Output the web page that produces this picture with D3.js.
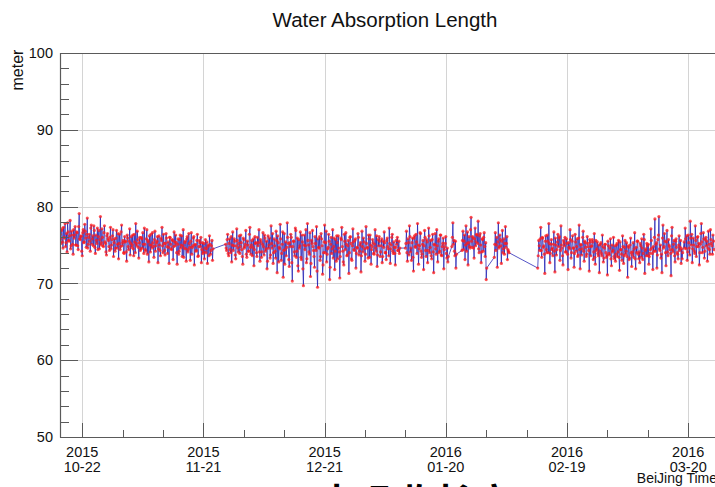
<!DOCTYPE html>
<html>
<head>
<meta charset="utf-8">
<script src="https://cdn.jsdelivr.net/npm/d3@7"></script>
<style>
  html, body { margin: 0; padding: 0; background: #fff; overflow: hidden; }
  svg { display: block; font-family: "Liberation Sans", Arial, sans-serif; }
</style>
</head>
<body>
<svg id="chart" width="715" height="487"></svg>
<script>
// Water absorption length in meters, read every 3 hours.
// Each run has two interleaved reading lists: "a" at 00/06/12/18 h offsets
// from the run start, "b" three hours after each "a" reading.
const stepHours = 6;

const run1Start = "2015-10-16T12:00:00Z";
const run1a = [
  76.4, 75.2, 77.1, 74.6, 76.0, 77.8, 75.3, 74.1, 76.7, 75.5, 78.2, 74.9, 76.3, 73.8, 75.9, 77.4,
  75.0, 76.6, 74.4, 79.1, 75.7, 76.2, 73.6, 77.0, 75.4, 76.8, 74.7, 78.5, 75.1, 76.4, 74.2, 77.6,
  75.8, 74.9, 76.9, 73.9, 75.6, 77.2, 76.1, 74.5, 78.7, 75.3, 76.0, 74.8, 77.5, 75.2, 73.7, 76.5,
  75.6, 74.3, 77.3, 75.0, 76.2, 73.5, 75.8, 74.6, 76.9, 75.1, 73.2, 76.4, 74.8, 77.6, 75.3, 74.0,
  76.1, 75.5, 72.9, 75.9, 74.4, 77.1, 75.2, 74.7, 76.3, 73.6, 75.4, 77.8, 74.9, 75.7, 73.3, 76.0,
  74.5, 75.8, 76.6, 73.9, 75.1, 74.2, 77.0, 75.6, 72.8, 75.0, 76.4, 74.6, 75.3, 73.4, 76.8, 74.9,
  75.5, 72.7, 76.2, 74.3, 75.9, 77.3, 74.0, 75.2, 73.7, 76.5, 74.8, 75.4, 72.6, 76.0, 74.5, 75.7,
  73.1, 76.7, 74.9, 75.3, 72.5, 75.8, 74.2, 76.3, 75.0, 73.5, 77.0, 74.6, 75.5, 72.9, 76.1, 74.4,
  75.2, 73.0, 76.6, 74.7, 75.9, 72.4, 75.1, 74.3, 76.4, 73.6, 75.6, 74.8, 72.7, 75.3, 74.1, 73.2,
  75.7, 74.5, 72.6, 75.0, 76.2, 73.8, 74.9, 73.0];
const run1b = [
  75.8, 76.9, 75.4, 77.3, 75.9, 74.8, 76.5, 77.9, 75.6, 76.2, 74.5, 76.8, 75.1, 77.0, 76.3, 75.0,
  76.7, 74.9, 77.4, 75.8, 76.1, 74.2, 76.6, 75.3, 77.7, 75.9, 76.4, 74.6, 76.0, 75.5, 77.2, 75.1,
  76.2, 77.5, 74.7, 76.3, 75.2, 74.4, 76.9, 75.7, 75.0, 77.1, 74.9, 76.6, 75.4, 74.1, 76.2, 75.8,
  74.8, 76.0, 74.5, 75.7, 77.0, 75.3, 74.2, 75.9, 74.6, 76.5, 75.2, 74.4, 76.7, 74.9, 75.6, 73.9,
  75.4, 74.1, 76.3, 74.8, 75.5, 73.7, 76.1, 75.0, 74.5, 76.4, 74.0, 75.2, 76.8, 74.7, 75.3, 74.3,
  76.0, 74.6, 75.1, 77.2, 74.4, 75.8, 73.8, 75.4, 76.2, 74.1, 75.0, 76.6, 74.8, 75.7, 74.2, 75.3,
  76.1, 74.5, 75.0, 73.6, 75.6, 74.9, 76.4, 74.3, 75.2, 75.9, 73.9, 74.7, 76.0, 75.1, 74.4, 75.6,
  74.8, 75.4, 76.3, 74.0, 75.1, 73.8, 75.7, 74.6, 76.2, 74.9, 73.4, 75.3, 74.5, 75.8, 74.1, 76.5,
  74.7, 75.5, 73.8, 74.9, 76.1, 75.0, 74.2, 75.6, 73.5, 74.8, 75.3, 76.0, 74.4, 73.9, 75.2, 74.6,
  74.0, 75.4, 74.8, 73.6, 75.1, 74.3, 75.6, 74.5];

const run2Start = "2015-11-26T12:00:00Z";
const run2a = [
  75.1, 74.3, 76.4, 73.6, 75.8, 74.0, 72.8, 76.7, 74.9, 75.5, 73.2, 77.1, 74.6, 75.2, 73.9, 76.3,
  74.4, 72.5, 75.7, 74.8, 76.9, 73.4, 75.0, 74.2, 77.3, 73.8, 75.6, 74.7, 72.3, 76.1, 75.3, 73.5,
  74.9, 77.0, 72.9, 75.4, 74.1, 76.6, 73.7, 75.9,
  74.5, 71.9, 76.2, 75.0, 73.3, 77.5, 74.6, 72.6, 75.8, 74.2, 76.8, 71.4, 75.3, 74.7, 77.7, 73.0,
  75.1, 70.8, 76.5, 74.4, 73.6, 77.9, 75.2, 72.2, 74.8, 76.0, 70.3, 75.5, 74.1, 77.2, 73.4, 75.9,
  71.6, 74.6, 76.7, 73.1, 75.4, 69.7, 76.3, 74.9, 72.7, 77.8, 75.0, 73.8, 70.9, 75.6, 76.9, 74.3,
  72.1, 75.2, 77.4, 69.5, 74.7, 76.1, 73.5, 75.8, 71.2, 74.0, 77.6, 75.3, 72.8, 74.5, 76.4, 70.5,
  75.1, 73.9, 77.0, 74.8, 71.8, 75.7, 76.2, 73.2, 74.6, 70.7, 75.9, 77.3, 74.2, 72.4, 75.5, 76.6,
  73.6, 74.9, 71.3, 76.0, 75.2, 73.0, 77.1, 74.4,
  75.6, 72.0, 74.7, 76.5, 73.7, 75.0, 71.5, 76.8, 74.1, 75.4, 72.9, 77.4, 74.6, 73.3, 75.8, 76.3,
  72.5, 74.8, 75.3, 73.8, 77.0, 74.2, 72.2, 75.7, 76.1, 73.5, 74.9, 72.7, 75.5, 76.7, 74.0, 73.1,
  75.9, 74.5, 77.2, 72.6, 75.0, 76.4, 73.9, 74.7, 72.4, 75.6, 76.0, 74.3, 73.9];
const run2b = [
  74.6, 75.7, 73.9, 75.2, 74.4, 76.1, 75.0, 74.3, 75.8, 73.7, 74.9, 75.6, 74.1, 76.2, 74.8, 75.3,
  73.5, 75.9, 74.6, 75.1, 73.8, 75.5, 74.2, 76.4, 74.7, 75.0, 73.6, 75.8, 74.4, 75.2, 74.0, 76.0,
  75.3, 74.1, 75.7, 73.4, 75.1, 74.8, 76.3, 74.2, 75.5, 72.9, 74.6, 75.9, 73.7, 75.2, 76.5, 74.0,
  74.9, 73.3, 75.6, 76.2, 72.8, 74.5, 75.8, 73.9, 76.7, 74.3, 72.5, 75.4, 74.7, 76.0, 73.1, 75.3,
  76.4, 72.7, 74.8, 75.5, 73.6, 76.9, 74.2, 72.3, 75.7, 74.9, 73.4, 76.3, 71.9, 75.0, 74.4, 77.0,
  73.2, 75.6, 74.1, 76.6, 72.6, 75.2, 74.8, 73.5, 76.1, 74.3, 71.6, 75.8, 74.6, 73.0, 76.5, 74.9,
  72.4, 75.4, 74.0, 76.8, 73.8, 74.7, 75.5, 72.1, 76.0, 74.5, 73.3, 75.9, 74.2, 72.9, 75.3, 76.2,
  74.1, 73.5, 75.7, 74.8, 72.8, 76.4, 74.4, 75.1, 73.7, 75.6, 74.0, 76.1, 73.2, 74.9, 75.4, 74.3,
  75.8, 73.9, 74.6, 76.0, 74.2, 75.3, 73.6, 74.8, 75.9, 74.5, 73.8, 75.2, 74.7, 76.3, 73.4, 75.0,
  74.4, 75.7, 73.9, 75.1, 74.6, 76.2, 73.7, 74.9, 75.5, 74.1, 75.8, 73.5, 74.7, 75.3, 74.0, 75.6,
  74.8, 73.6, 75.2, 74.5, 76.0, 74.2, 75.4, 73.9, 74.7, 75.1, 74.3, 75.5, 74.6];

const run3Start = "2016-01-10T00:00:00Z";
const run3a = [
  74.6, 76.8, 72.9, 75.3, 77.5, 74.1, 73.0, 75.9, 71.6, 76.2, 74.7, 75.4, 77.8, 72.5, 74.9, 76.5,
  73.4, 75.1, 71.8, 76.9, 74.3, 75.7, 72.7, 77.2, 74.0, 75.6, 73.2, 76.4, 71.4, 75.0, 74.5, 77.0,
  72.8, 75.8, 74.2, 76.3, 73.6, 75.2, 71.9, 74.8, 76.1, 73.3, 72.8];
const run3b = [
  75.2, 74.0, 75.8, 73.7, 76.1, 74.6, 75.3, 73.4, 75.9, 74.8, 76.4, 73.9, 75.0, 74.5, 76.6, 74.2,
  73.8, 75.6, 74.9, 76.0, 73.5, 75.4, 74.3, 76.2, 74.7, 73.6, 75.7, 74.1, 75.1, 76.5, 73.8, 74.9,
  75.5, 74.0, 76.3, 73.7, 74.8, 75.9, 74.4, 75.2, 73.9, 74.6, 73.5];

const run4Start = "2016-01-21T12:00:00Z";
const run4a = [74.8, 77.9, 75.6, 73.6, 72.0];
const run4b = [76.0, 75.1, 74.2, 75.5, 73.8];

const run5Start = "2016-01-24T00:00:00Z";
const run5a = [
  74.3, 76.8, 75.5, 73.1, 77.5, 75.2, 72.4, 76.1, 74.6, 78.6, 74.7, 75.9, 73.3, 77.2, 75.4, 76.3,
  78.1, 74.0, 76.5, 72.7, 75.8, 74.2, 76.6, 73.5, 70.5];
const run5b = [
  75.6, 74.4, 76.3, 75.0, 74.2, 76.7, 75.3, 74.8, 77.0, 75.5, 76.1, 74.6, 75.8, 74.9, 76.4, 75.2,
  74.5, 76.2, 75.0, 74.1, 75.7, 76.0, 74.8, 75.3, 72.0];

const run6Start = "2016-02-01T00:00:00Z";
const run6a = [73.4, 76.6, 75.0, 72.1, 77.9, 74.8, 75.7, 72.6, 76.9, 74.5, 73.8, 77.4, 75.2, 73.1, 74.2];
const run6b = [75.1, 74.3, 76.0, 75.4, 74.6, 76.3, 74.9, 75.5, 74.0, 75.8, 75.2, 74.7, 76.1, 74.4, 74.0];

const run7Start = "2016-02-11T18:00:00Z";
const run7a = [
  72.0, 75.6, 74.3, 77.3, 73.4, 75.9, 74.9, 71.3, 76.2, 74.0, 75.5, 77.8, 72.7, 75.1, 74.4, 73.6,
  76.7, 71.5, 75.0, 74.4, 76.4, 75.9, 73.0, 77.5, 74.6, 72.4, 75.3, 76.0, 74.1, 75.2, 71.8, 74.7,
  77.0, 73.3, 75.5, 74.6, 72.1, 76.4, 74.2, 75.8, 73.7, 77.6, 71.9, 75.0, 74.5, 76.8, 72.9, 75.3,
  73.5, 76.1, 74.8, 71.6, 75.4, 74.8, 75.7, 73.1, 76.5, 72.5, 74.3, 75.4, 73.6, 71.4, 75.1, 73.9,
  76.3, 72.8, 74.6, 75.1, 73.4, 71.1, 74.9, 73.7, 75.8, 72.3, 74.1, 76.0, 73.2, 72.9, 75.0, 73.5,
  75.6, 71.7, 74.4, 73.8, 76.2, 72.6, 74.7, 73.8, 75.3, 70.8, 74.7, 73.3, 75.9, 72.2, 74.1, 73.4,
  76.6, 71.9, 74.0, 75.5, 73.2, 72.7, 74.9, 75.8, 73.1, 76.4, 71.3, 74.5, 75.2, 73.6, 72.5, 73.9,
  77.1, 74.6, 71.8, 74.2, 78.4, 75.1, 72.0, 75.7, 78.7, 74.3, 73.3, 71.4, 77.6, 74.8, 75.5, 72.3,
  76.9, 73.6, 75.0, 74.4, 71.0, 77.3, 74.1, 75.6, 72.8, 75.8, 74.0, 73.2, 76.2, 74.7, 72.6, 73.2];
const run7b = [
  73.6, 74.9, 75.8, 74.3, 76.0, 74.7, 73.8, 75.5, 74.4, 76.3, 74.0, 75.2, 73.9, 75.7, 74.6, 75.1,
  74.2, 75.9, 73.7, 75.4, 74.8, 76.1, 74.3, 75.0, 73.6, 75.6, 74.9, 74.1, 75.8, 73.8, 75.3, 74.5,
  75.7, 74.0, 76.2, 74.6, 73.9, 75.4, 74.8, 73.5, 75.9, 74.4, 75.1, 73.7, 76.0, 74.2, 75.5, 74.7,
  73.8, 75.2, 74.3, 75.7, 73.6, 74.9, 75.4, 74.1, 73.4, 75.6, 74.5, 73.9, 75.0, 74.2, 75.3, 73.6,
  74.8, 73.3, 75.1, 74.0, 73.7, 75.5, 73.9, 74.6, 73.2, 75.0, 74.3, 73.5, 74.9, 73.8, 75.2, 74.1,
  73.4, 75.4, 74.4, 73.0, 74.8, 73.6, 75.6, 74.2, 73.5, 74.9, 73.1, 75.0, 74.0, 73.7, 75.3, 74.5,
  73.2, 74.7, 75.5, 73.8, 74.1, 75.2, 73.4, 74.6, 73.9, 75.7, 74.3, 73.6, 74.9, 75.1, 73.5, 74.4,
  75.6, 73.9, 74.8, 76.0, 74.2, 75.3, 73.7, 76.3, 74.5, 75.0, 73.8, 75.9, 74.6, 76.5, 74.0, 75.4,
  74.1, 75.7, 74.8, 73.9, 76.2, 74.4, 75.1, 73.6, 75.5, 74.7, 73.8, 75.0, 74.3, 75.6, 74.5, 74.0];

const run8Start = "2016-03-19T00:00:00Z";
const run8a = [
  75.4, 77.2, 74.5, 73.0, 76.3, 74.6, 78.1, 75.0, 72.7, 75.9, 74.2, 77.5, 73.5, 76.0, 74.8, 72.4,
  75.1, 77.8, 74.0, 76.6, 73.3, 75.7, 74.9, 72.9, 76.8, 74.4, 77.0, 75.2, 73.8, 75.5];
const run8b = [
  74.6, 75.8, 76.2, 74.1, 75.3, 73.7, 75.9, 76.4, 74.5, 75.0, 73.9, 75.6, 74.8, 76.1, 75.2, 74.0,
  76.5, 75.4, 74.7, 75.8, 74.2, 76.0, 75.5, 74.6, 75.1, 73.8, 75.7, 74.9, 76.3, 74.4];

// Axis labels
const yTicks = [50, 60, 70, 80, 90, 100];
const xTickDates = ["2015-10-22", "2015-11-21", "2015-12-21", "2016-01-20", "2016-02-19", "2016-03-20"];
const titleText = "Water Absorption Length";
const yLabel = "meter";
const xLabel = "BeiJing Time";
const captionText = "水吸收长度";

// Merge each run's two reading lists into one time-ordered series
const runs = [
  [run1Start, run1a, run1b], [run2Start, run2a, run2b], [run3Start, run3a, run3b], [run4Start, run4a, run4b],
  [run5Start, run5a, run5b], [run6Start, run6a, run6b], [run7Start, run7a, run7b], [run8Start, run8a, run8b]];
const H = 3600e3;
const points = [];
runs.forEach(([start, a, b]) => {
  const t0 = new Date(start).getTime();
  const n = Math.max(a.length, b.length);
  for (let i = 0; i < n; i++) {
    if (a[i] !== undefined) points.push({ t: new Date(t0 + i * stepHours * H), v: a[i] });
    if (b[i] !== undefined) points.push({ t: new Date(t0 + (i * stepHours + stepHours / 2) * H), v: b[i] });
  }
});

const DAY = 86400e3;
const plotLeft = 60, plotTop = 53, plotBottom = 437;
const pxPerDay = 4.04;
const domainStart = new Date("2015-10-16T12:00:00Z");
const domainEnd = new Date("2016-03-30T00:00:00Z");
const plotRight = plotLeft + (domainEnd - domainStart) / DAY * pxPerDay;

const x = d3.scaleUtc().domain([domainStart, domainEnd]).range([plotLeft, plotRight]);
const y = d3.scaleLinear().domain([50, 100]).range([plotBottom, plotTop]);

const svg = d3.select("#chart");

svg.append("defs").append("clipPath").attr("id", "plot-clip")
  .append("rect").attr("x", plotLeft).attr("y", plotTop)
  .attr("width", plotRight - plotLeft).attr("height", plotBottom - plotTop);

const majorDates = xTickDates.map(s => new Date(s + "T00:00:00Z"));
const minorDates = d3.range(majorDates[0].getTime() - 30 * DAY, domainEnd.getTime(), 10 * DAY)
  .map(t => new Date(t)).filter(d => d >= domainStart);

// Grid
const grid = svg.append("g").attr("stroke", "#d4d4d4").attr("stroke-width", 1);
grid.selectAll("line.gx").data(majorDates).join("line")
  .attr("x1", d => Math.round(x(d)) + 0.5).attr("x2", d => Math.round(x(d)) + 0.5)
  .attr("y1", plotTop).attr("y2", plotBottom);
grid.selectAll("line.gy").data(yTicks.slice(1, -1)).join("line")
  .attr("x1", plotLeft).attr("x2", plotRight)
  .attr("y1", d => Math.round(y(d)) + 0.5).attr("y2", d => Math.round(y(d)) + 0.5);

// Series: blue connecting line with red point markers
const plot = svg.append("g").attr("clip-path", "url(#plot-clip)");
plot.append("path").datum(points)
  .attr("fill", "none").attr("stroke", "#2020b4").attr("stroke-opacity", 0.85).attr("stroke-width", 0.9)
  .attr("d", d3.line().x(d => x(d.t)).y(d => y(d.v)));
plot.selectAll("circle").data(points).join("circle")
  .attr("cx", d => x(d.t)).attr("cy", d => y(d.v)).attr("r", 1.6)
  .attr("fill", "#ff1a1a").attr("fill-opacity", 0.75);

// Frame and axes
const axisColor = "#5a5a5a";
svg.append("line").attr("x1", plotLeft + 0.5).attr("x2", plotLeft + 0.5).attr("y1", plotTop).attr("y2", plotBottom + 0.5)
  .attr("stroke", axisColor).attr("stroke-width", 1.2);
svg.append("line").attr("x1", plotLeft).attr("x2", plotRight).attr("y1", plotTop + 0.5).attr("y2", plotTop + 0.5)
  .attr("stroke", axisColor).attr("stroke-width", 1.2);
svg.append("line").attr("x1", plotLeft).attr("x2", plotRight).attr("y1", plotBottom + 0.5).attr("y2", plotBottom + 0.5)
  .attr("stroke", axisColor).attr("stroke-width", 1.2);

// Y ticks (inward)
const yMinor = d3.range(50, 100.01, 2);
svg.append("g").selectAll("line").data(yMinor).join("line")
  .attr("x1", plotLeft).attr("x2", d => plotLeft + (d % 10 === 0 ? 18 : 9))
  .attr("y1", d => Math.round(y(d)) + 0.5).attr("y2", d => Math.round(y(d)) + 0.5)
  .attr("stroke", axisColor).attr("stroke-width", 1);
svg.append("g").selectAll("text").data(yTicks).join("text")
  .attr("x", plotLeft - 7).attr("y", d => y(d)).attr("dy", "0.36em")
  .attr("text-anchor", "end").attr("font-size", 14.5).attr("fill", "#111")
  .text(d => d);

// X ticks (inward, upward from the bottom axis)
svg.append("g").selectAll("line").data(minorDates).join("line")
  .attr("x1", d => Math.round(x(d)) + 0.5).attr("x2", d => Math.round(x(d)) + 0.5)
  .attr("y1", plotBottom).attr("y2", d => plotBottom - (majorDates.some(m => +m === +d) ? 14 : 7))
  .attr("stroke", axisColor).attr("stroke-width", 1);

const fmtYear = d3.utcFormat("%Y"), fmtMD = d3.utcFormat("%m-%d");
const xl = svg.append("g").attr("font-size", 14.5).attr("fill", "#111").attr("text-anchor", "middle");
xl.selectAll("text.yr").data(majorDates).join("text").attr("class", "yr")
  .attr("x", d => x(d)).attr("y", 457).text(fmtYear);
xl.selectAll("text.md").data(majorDates).join("text").attr("class", "md")
  .attr("x", d => x(d)).attr("y", 472).text(fmtMD);

// Titles
svg.append("text").attr("x", 385).attr("y", 27).attr("text-anchor", "middle")
  .attr("font-size", 20.5).attr("fill", "#111").text(titleText);
svg.append("text").attr("transform", "translate(23,70) rotate(-90)").attr("text-anchor", "middle")
  .attr("font-size", 16).attr("fill", "#111").text(yLabel);
svg.append("text").attr("x", 717).attr("y", 483).attr("text-anchor", "end")
  .attr("font-size", 14).attr("fill", "#111").text(xLabel);

// Caption below the figure
svg.append("text").attr("x", 318).attr("y", 516)
  .attr("font-family", "'Noto Sans CJK SC', sans-serif").attr("font-weight", "bold")
  .attr("font-size", 37).attr("letter-spacing", 2).attr("fill", "#000").text(captionText);
</script>
</body>
</html>
